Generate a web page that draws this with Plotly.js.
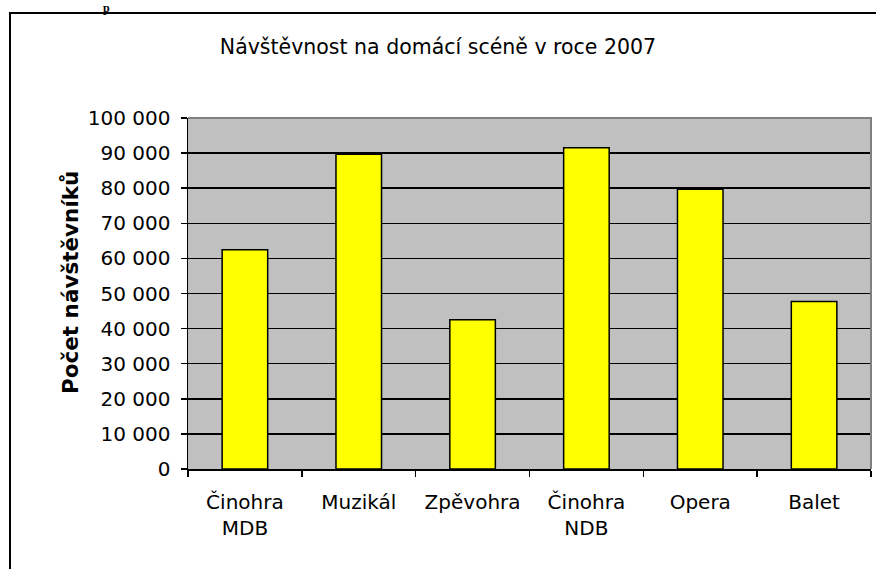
<!DOCTYPE html>
<html>
<head>
<meta charset="utf-8">
<script src="https://cdn.plot.ly/plotly-3.0.1.min.js"></script>
<style>
html, body { margin: 0; padding: 0; background: #ffffff; }
#chart { width: 876px; height: 569px; }
</style>
</head>
<body>
<div id="chart"></div>
<script>
// Data
const categories = ["Činohra<br>MDB", "Muzikál", "Zpěvohra", "Činohra<br>NDB", "Opera", "Balet"];
const visitors = [62500, 89700, 42500, 91500, 79700, 47700];
const yTickValues = [0, 10000, 20000, 30000, 40000, 50000, 60000, 70000, 80000, 90000, 100000];

const chartTitle = "Návštěvnost na domácí scéně v roce 2007";
const yAxisTitle = "Počet návštěvníků";
const pageFragment = "p";   // bold letter of the document heading above the frame

const W = 876, H = 569;
const M = { l: 188, r: 5, t: 118, b: 100 };
const pw = W - M.l - M.r, ph = H - M.t - M.b;
const px = v => (v - M.l) / pw;          // pixel x -> paper x
const py = v => (H - M.b - v) / ph;      // pixel y -> paper y

const font = "DejaVu Sans, Liberation Sans, Arial, sans-serif";

const trace = {
  type: "bar",
  x: categories,
  y: visitors,
  marker: { color: "#FFFF00", line: { color: "#000000", width: 1.5 } },
  hoverinfo: "x+y"
};

const layout = {
  width: W, height: H,
  margin: M,
  paper_bgcolor: "#ffffff",
  plot_bgcolor: "#C0C0C0",
  separators: ", ",
  showlegend: false,
  bargap: 0.6,
  font: { family: font, size: 20, color: "#000000" },
  title: {
    text: chartTitle,
    font: { family: font, size: 20.5, color: "#000000" },
    x: 0.5, xref: "container", xanchor: "center",
    y: 1 - 47 / H, yref: "container", yanchor: "middle"
  },
  xaxis: {
    type: "category",
    showgrid: false,
    showline: true, linecolor: "#000000", linewidth: 2,
    ticks: "outside", tickson: "boundaries", ticklen: 6, tickwidth: 1.5, tickcolor: "#000000",
    tickfont: { family: font, size: 20, color: "#000000" },
    ticklabelstandoff: 14,
    zeroline: false,
    fixedrange: true
  },
  yaxis: {
    range: [0, 100000],
    tickvals: yTickValues,
    tickformat: ",d",
    showgrid: true, gridcolor: "#000000", gridwidth: 1.5,
    showline: true, linecolor: "#000000", linewidth: 1.5,
    ticks: "outside", ticklen: 6, tickwidth: 1.5, tickcolor: "#000000",
    tickfont: { family: font, size: 20, color: "#000000" },
    ticklabelstandoff: 6,
    zeroline: false,
    fixedrange: true
  },
  annotations: [
    {
      text: "<b>" + yAxisTitle + "</b>",
      xref: "paper", yref: "paper",
      x: px(70), y: py(283),
      xanchor: "center", yanchor: "middle",
      textangle: -90, showarrow: false,
      font: { family: font, size: 21.5, color: "#000000" }
    },
    {
      text: "<b>" + pageFragment + "</b>",
      xref: "paper", yref: "paper",
      x: px(106), y: py(0),
      xanchor: "center", yanchor: "top",
      borderpad: 0,
      showarrow: false,
      font: { family: "Liberation Serif, Times New Roman, serif", size: 12, color: "#000000" }
    }
  ],
  shapes: [
    // outer chart frame
    {
      type: "rect", xref: "paper", yref: "paper",
      x0: px(10), x1: px(884), y0: py(580), y1: py(13),
      line: { color: "#000000", width: 2 }, fillcolor: "rgba(0,0,0,0)", layer: "above"
    },
    // gray top and right border of plot area
    {
      type: "path", xref: "paper", yref: "paper",
      path: "M 0 1 L 1 1 L 1 0",
      line: { color: "#808080", width: 2 }, layer: "above"
    }
  ]
};

Plotly.newPlot("chart", [trace], layout, { displayModeBar: false, staticPlot: true });
</script>
</body>
</html>
